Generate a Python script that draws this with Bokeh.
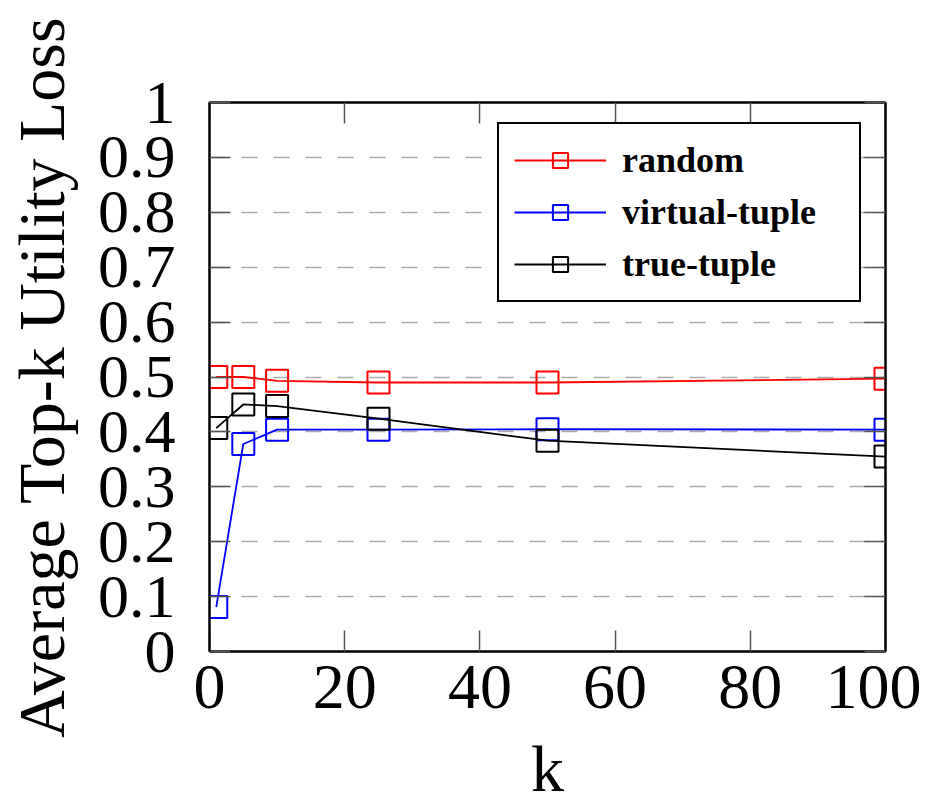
from bokeh.plotting import figure
from bokeh.models import Legend, LegendItem, LinearAxis, FixedTicker, Range1d
from bokeh.embed import file_html
from bokeh.resources import INLINE

k = [1, 5, 10, 25, 50, 100]
random_loss = [0.50, 0.50, 0.493, 0.49, 0.49, 0.497]
virtual_loss = [0.081, 0.378, 0.404, 0.404, 0.405, 0.404]
true_loss = [0.407, 0.45, 0.447, 0.424, 0.384, 0.355]

x_ticks = [0, 20, 40, 60, 80, 100]
y_ticks = [0, 0.1, 0.2, 0.3, 0.4, 0.5, 0.6, 0.7, 0.8, 0.9, 1]
y_tick_labels = ["0", "0.1", "0.2", "0.3", "0.4", "0.5", "0.6", "0.7", "0.8", "0.9", "1"]

FONT = "Liberation Serif"

p = figure(width=921, height=807, output_backend="svg", toolbar_location=None,
           x_range=Range1d(0, 100), y_range=Range1d(0, 1),
           min_border_left=209, min_border_right=36, min_border_top=102, min_border_bottom=156)
p.background_fill_color = "white"
p.border_fill_color = "white"
p.outline_line_color = "black"
p.outline_line_width = 2

p.xgrid.visible = False
p.ygrid.ticker = FixedTicker(ticks=y_ticks[1:-1])
p.ygrid.grid_line_color = "#aaaaaa"
p.ygrid.grid_line_width = 1.5
p.ygrid.grid_line_dash = "16 16"

def style_axis(ax, ticks, labels=True):
    ax.ticker = FixedTicker(ticks=ticks)
    ax.axis_line_color = "black"
    ax.axis_line_width = 2
    ax.major_tick_in = 21
    ax.major_tick_out = 0
    ax.major_tick_line_width = 1.5
    ax.major_tick_line_color = "#555555"
    ax.minor_tick_line_color = None
    ax.major_label_text_font = FONT
    ax.major_label_text_color = "black"
    if not labels:
        ax.major_label_text_font_size = "1px"
        ax.major_label_text_alpha = 0

xa = p.xaxis[0]
style_axis(xa, x_ticks)
xa.major_label_text_font_size = "64px"
xa.major_label_standoff = 14
xa.axis_label = "k"
xa.axis_label_text_font = FONT
xa.axis_label_text_font_size = "66px"
xa.axis_label_text_font_style = "normal"
xa.axis_label_text_color = "black"
xa.axis_label_standoff = 21

ya = p.yaxis[0]
style_axis(ya, y_ticks)
ya.major_label_text_font_size = "62px"
ya.major_label_standoff = 34
ya.major_label_overrides = {t: l for t, l in zip(y_ticks, y_tick_labels)}
ya.axis_label = "Average Top-k Utility Loss"
ya.axis_label_text_font = FONT
ya.axis_label_text_font_size = "66px"
ya.axis_label_text_font_style = "normal"
ya.axis_label_text_color = "black"
ya.axis_label_standoff = 17

top = LinearAxis()
style_axis(top, x_ticks, labels=False)
p.add_layout(top, "above")
right = LinearAxis()
style_axis(right, y_ticks, labels=False)
p.add_layout(right, "right")

series = [("random", random_loss, "#ff0000"),
          ("virtual-tuple", virtual_loss, "#0000ff"),
          ("true-tuple", true_loss, "black")]
items = []
for name, vals, col in series:
    l = p.line(k, vals, line_color=col, line_width=1.8)
    m = p.scatter(k, vals, marker="square", size=22, fill_color=None,
                  line_color=col, line_width=2)
    items.append(LegendItem(label=name, renderers=[l, m]))

legend = Legend(items=items, location=(288, 349))
legend.label_text_font = FONT
legend.label_text_font_size = "36px"
legend.label_text_font_style = "bold"
legend.label_text_color = "black"
legend.glyph_width = 92
legend.glyph_height = 38
legend.label_height = 38
legend.label_width = 222
legend.label_standoff = 16
legend.spacing = 10
legend.padding = 15
legend.margin = 0
legend.border_line_color = "black"
legend.border_line_alpha = 1
legend.border_line_width = 2
legend.background_fill_color = "white"
legend.background_fill_alpha = 1
p.add_layout(legend, "center")

open("out.html", "w").write(file_html(p, INLINE))
